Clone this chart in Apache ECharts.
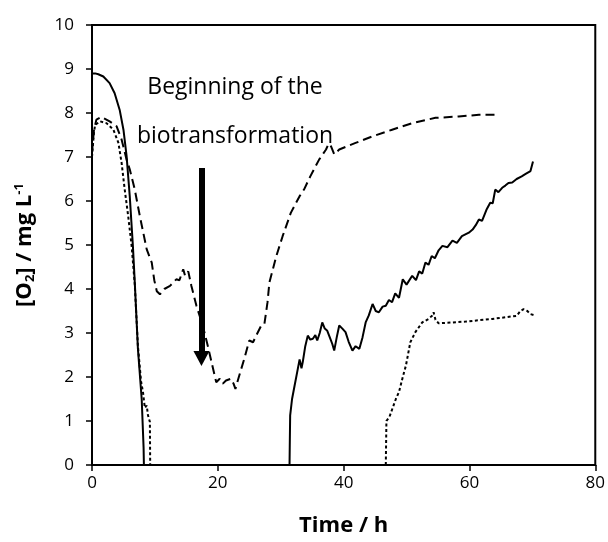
<!DOCTYPE html>
<html><head><meta charset="utf-8">
<script src="https://cdn.jsdelivr.net/npm/echarts@6/dist/echarts.min.js"></script>
<style>html,body{margin:0;padding:0;background:#fff}#c{width:608px;height:542px}</style>
</head><body><div id="c"></div>
<script>
// Data (time in h, [O2] in mg/L); null breaks a line
var solidData = [[0,8.9],[0.5,8.9],[1,8.88],[1.8,8.83],[2.8,8.68],[3.6,8.45],[4.4,8.07],[5,7.62],[5.5,7.02],[6,6.11],[6.5,4.98],[6.8,4.15],[7.3,2.64],[7.9,1.5],[8.2,0.4],[8.25,0],null,
 [31.4,0],[31.45,0.6],[31.5,1.13],[31.8,1.5],[32.2,1.8],[32.6,2.1],[33,2.4],[33.3,2.2],[33.5,2.34],[33.9,2.7],[34.3,2.94],[34.7,2.85],[35.1,2.87],[35.5,2.95],[35.8,2.83],[36.2,3.0],[36.6,3.24],[37,3.1],[37.4,3.05],[37.8,2.9],[38.2,2.75],[38.5,2.6],[38.9,2.9],[39.3,3.17],[39.8,3.1],[40.3,3.02],[40.8,2.8],[41.4,2.6],[41.9,2.7],[42.5,2.64],[43,2.9],[43.5,3.24],[44,3.4],[44.6,3.66],[45.1,3.5],[45.6,3.47],[46.2,3.6],[46.7,3.62],[47.2,3.75],[47.7,3.7],[48.2,3.9],[48.8,3.8],[49.4,4.22],[50,4.1],[50.9,4.3],[51.5,4.2],[52,4.4],[52.5,4.35],[53,4.6],[53.5,4.55],[54,4.75],[54.5,4.7],[55.1,4.88],[55.7,4.98],[56.5,4.95],[57.3,5.1],[58,5.05],[58.8,5.2],[59.9,5.28],[60.5,5.35],[61,5.45],[61.5,5.58],[62,5.55],[62.7,5.8],[63.3,5.96],[63.7,5.95],[64.1,6.26],[64.6,6.2],[65.2,6.3],[65.7,6.35],[66.2,6.41],[66.8,6.42],[67.5,6.5],[68.3,6.56],[69,6.62],[69.7,6.68],[70,6.7],[70.1,6.9]];
var dashData = [[0,7.1],[0.3,7.6],[0.7,7.85],[1.5,7.91],[2.8,7.81],[3.9,7.7],[4.7,7.4],[5.5,6.94],[6,6.72],[6.8,6.26],[7.6,5.66],[8.7,4.9],[9.5,4.6],[9.9,4.2],[10.3,3.95],[10.8,3.88],[11.5,4.0],[12.4,4.07],[13.4,4.22],[13.9,4.2],[14.5,4.45],[14.8,4.3],[15.3,4.4],[15.8,4.07],[16.6,3.62],[17.6,3.17],[18.4,2.71],[19,2.34],[19.5,2.03],[19.75,1.88],[20.3,1.96],[20.8,1.85],[21.3,1.92],[22.1,1.96],[22.5,1.85],[22.8,1.73],[23.4,2.03],[24.2,2.41],[25,2.83],[25.6,2.79],[26.1,2.94],[26.9,3.17],[27.4,3.2],[27.9,3.7],[28.2,4.15],[29.3,4.75],[30.3,5.2],[31.6,5.73],[33,6.11],[33.7,6.26],[34.7,6.56],[36.1,6.94],[37.2,7.17],[37.6,7.3],[38,7.24],[38.5,7.06],[39.3,7.17],[41.9,7.32],[44.6,7.47],[47.7,7.62],[50.9,7.77],[54.6,7.89],[58.3,7.92],[61.5,7.96],[64.1,7.96]];
var dotData = [[0,7.0],[0.3,7.55],[0.5,7.73],[1.3,7.81],[2.3,7.77],[3.4,7.62],[4.2,7.32],[4.7,6.87],[5.2,6.26],[5.75,5.66],[6.3,4.98],[6.8,4.1],[7.3,2.7],[7.8,1.9],[8.1,1.66],[8.4,1.3],[8.7,1.35],[8.9,1.13],[9.2,0.98],[9.25,0],null,
 [46.7,0],[46.75,0.5],[46.8,1.0],[47.3,1.1],[47.8,1.3],[48.3,1.5],[48.8,1.66],[49.4,2.0],[49.9,2.26],[50.6,2.79],[51.4,3.02],[52.5,3.24],[53.5,3.32],[54.1,3.4],[54.3,3.47],[54.6,3.3],[55.1,3.22],[59.4,3.26],[63.6,3.32],[67.5,3.39],[68.1,3.5],[68.6,3.54],[69.2,3.5],[69.7,3.43],[70.2,3.41]];
var arrowFrom = [17.4, 6.75];
var arrowTo = [17.4, 2.42];
var annotationLines = ['Beginning of the', 'biotransformation'];
var xTicks = {min: 0, max: 80, interval: 20};
var yTicks = {min: 0, max: 10, interval: 1};

var FONT = '"Open Sans", "Liberation Sans", sans-serif';
var chart = echarts.init(document.getElementById('c'), null, {renderer: 'canvas'});
chart.setOption({
  animation: false,
  backgroundColor: '#fff',
  grid: {left: 92, right: 11, top: 25, bottom: 75, show: true, borderColor: '#000', borderWidth: 2, backgroundColor: 'transparent'},
  xAxis: {
    type: 'value', min: xTicks.min, max: xTicks.max, interval: xTicks.interval,
    name: 'Time / h', nameLocation: 'middle', nameGap: 50,
    nameTextStyle: {fontFamily: FONT, fontWeight: 'bold', fontSize: 22, color: '#000'},
    axisLine: {show: true, lineStyle: {color: '#000', width: 2}},
    axisTick: {show: true, length: 6, lineStyle: {color: '#000', width: 1.5}},
    axisLabel: {margin: 10, fontFamily: FONT, fontSize: 17, color: '#000'},
    splitLine: {show: false}
  },
  yAxis: {
    type: 'value', min: yTicks.min, max: yTicks.max, interval: yTicks.interval,
    name: '{a|[O}{s|2}{a|] / mg L}{p|-1}', nameLocation: 'middle', nameGap: 53, nameRotate: 90,
    nameTextStyle: {
      fontFamily: FONT, fontWeight: 'bold', fontSize: 22, color: '#000',
      rich: {
        a: {fontFamily: FONT, fontWeight: 'bold', fontSize: 22, color: '#000', lineHeight: 28, verticalAlign: 'middle'},
        s: {fontFamily: FONT, fontWeight: 'bold', fontSize: 13, color: '#000', lineHeight: 28, verticalAlign: 'bottom', padding: [0,0,2,0]},
        p: {fontFamily: FONT, fontWeight: 'bold', fontSize: 13, color: '#000', lineHeight: 28, verticalAlign: 'top', padding: [2,0,0,0]}
      }
    },
    axisLine: {show: true, lineStyle: {color: '#000', width: 2}},
    axisTick: {show: true, length: 6, lineStyle: {color: '#000', width: 1.5}},
    axisLabel: {margin: 18, fontFamily: FONT, fontSize: 17, color: '#000'},
    splitLine: {show: false}
  },
  series: [
    {type: 'line', data: solidData, showSymbol: false, connectNulls: false, lineStyle: {color: '#000', width: 2, type: 'solid'},
     markLine: {silent: true, symbol: ['none', 'triangle'], symbolSize: [16, 15], label: {show: false},
       lineStyle: {color: '#000', width: 6, type: 'solid'}, itemStyle: {color: '#000'},
       data: [[{coord: arrowFrom}, {coord: arrowTo}]]}},
    {type: 'line', data: dashData, showSymbol: false, connectNulls: false, lineStyle: {color: '#000', width: 2, type: [9, 5]}},
    {type: 'line', data: dotData, showSymbol: false, connectNulls: false, lineStyle: {color: '#000', width: 2, type: [3, 2.5]}}
  ],
  graphic: [
    {type: 'text', style: {text: annotationLines[0], font: '23px ' + FONT, fill: '#000', textAlign: 'center', textVerticalAlign: 'middle'}, x: 235, y: 87},
    {type: 'text', style: {text: annotationLines[1], font: '23px ' + FONT, fill: '#000', textAlign: 'center', textVerticalAlign: 'middle'}, x: 235, y: 136}
  ]
});
</script></body></html>
